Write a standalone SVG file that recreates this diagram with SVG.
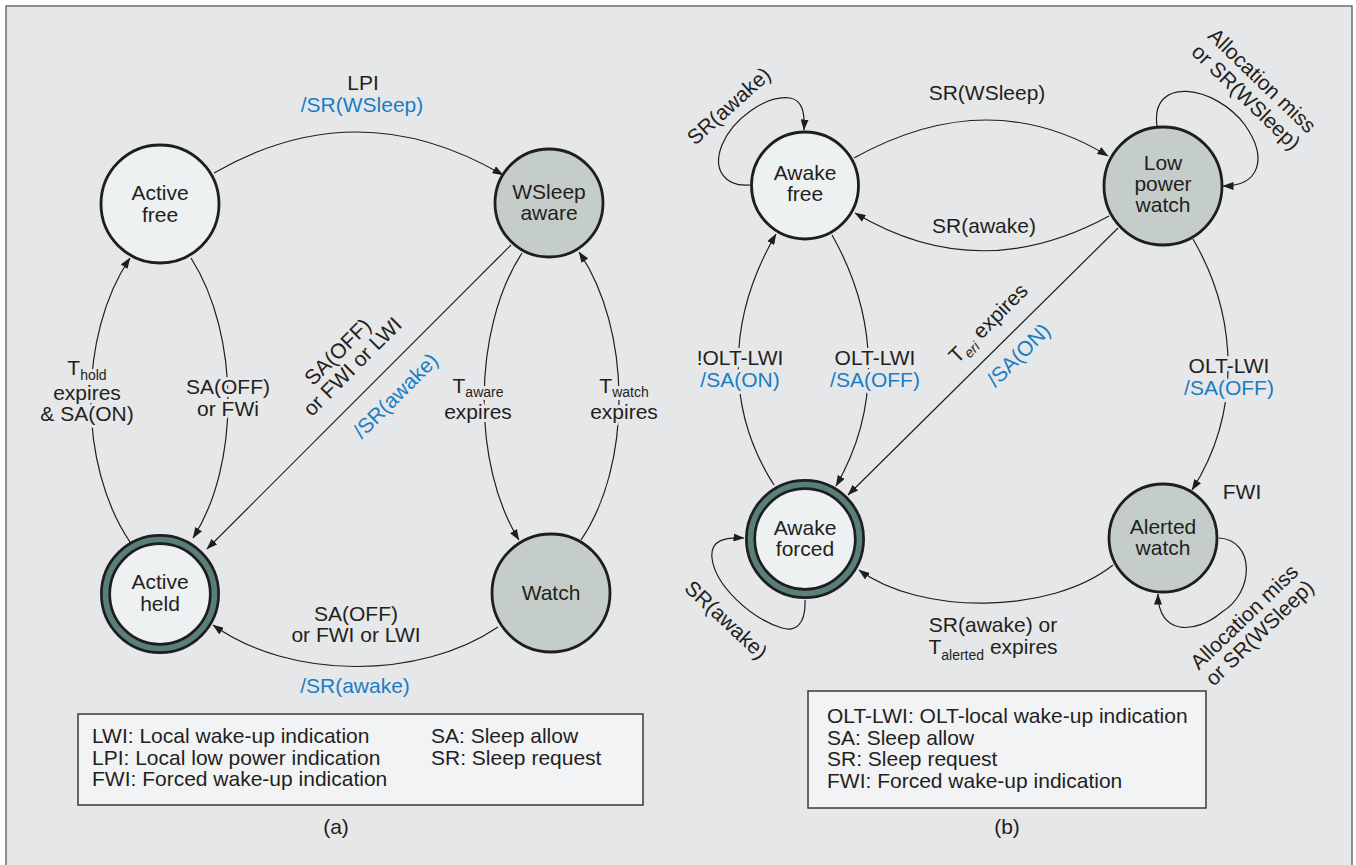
<svg xmlns="http://www.w3.org/2000/svg" width="1356" height="865" viewBox="0 0 1356 865">
<defs>
<marker id="arr" markerUnits="userSpaceOnUse" markerWidth="11" markerHeight="8" refX="10.5" refY="4" orient="auto">
<path d="M0,0 L11,4 L0,8 z" fill="#1e1e1e"/>
</marker>
</defs>
<style>
text{font-family:"Liberation Sans",Arial,sans-serif;font-size:21px;fill:#231f20}
.mid{text-anchor:middle}
.blue{fill:#1b7dc3}
.halo{stroke:#e6e7e9;stroke-width:6px;paint-order:stroke;stroke-linejoin:round}
.sub{font-size:14px}
.conn path{fill:none;stroke:#1e1e1e;stroke-width:1.2;marker-end:url(#arr)}
.light{fill:#eef1f1;stroke:#1e1e1e;stroke-width:2.8}
.gray{fill:#c4cdc9;stroke:#1e1e1e;stroke-width:2.8}
.ring{fill:#5a7f78;stroke:#1e1e1e;stroke-width:2.7}
.inner{fill:#eef1f1;stroke:#1e1e1e;stroke-width:2.7}
.legend{fill:#f2f3f5;stroke:#3a3a3a;stroke-width:1.5}
</style>
<rect x="0" y="0" width="1356" height="865" fill="#ffffff"/>
<rect x="6" y="6" width="1346" height="880" fill="#e6e7e9" stroke="#6d6e70" stroke-width="1.5"/>

<g id="connectors" class="conn">
<path d="M214,173 Q358,90 503,175"/>
<path d="M191,258 C240,335 240,465 193,538"/>
<path d="M130,542 C78,465 78,335 130,258"/>
<path d="M511,245 L207,549"/>
<path d="M522,253 C472,330 472,465 519,540"/>
<path d="M581,540 C632,465 632,330 579,252"/>
<path d="M498,627 C420,680 290,680 213,625"/>
<path d="M854,158 Q989,83 1108,156"/>
<path d="M1109,216 Q979,287 855,213"/>
<path d="M750,185 C725,187 712,170 722,145 C732,120 765,95 790,98 C802,100 805,112 804,130"/>
<path d="M1157,126 C1150,75 1215,85 1245,125 C1268,158 1260,186 1223,186"/>
<path d="M832,235 C880,320 880,410 836,486"/>
<path d="M774,485 C726,410 726,320 776,234"/>
<path d="M1118,228 L848,495"/>
<path d="M1193,239 C1240,320 1240,415 1192,490"/>
<path d="M1219,538 C1255,540 1255,592 1222,612 C1195,635 1158,635 1158,594"/>
<path d="M1113,565 C1050,615 920,615 859,570"/>
<path d="M805,600 C806,625 795,632 782,628 C750,618 715,585 712,558 C710,540 725,537 744,538"/>
</g>

<g id="node-active-free">
<circle class="light" cx="160" cy="204" r="59"/>
<text class="mid" x="160" y="200">Active</text>
<text class="mid" x="160" y="221.5">free</text>
</g>
<g id="node-wsleep-aware">
<circle class="gray" cx="549" cy="203" r="54"/>
<text class="mid" x="549" y="199">WSleep</text>
<text class="mid" x="549" y="220">aware</text>
</g>
<g id="node-active-held">
<circle class="ring" cx="160" cy="594" r="58.6"/>
<circle class="inner" cx="160" cy="594" r="50.3"/>
<text class="mid" x="160" y="589">Active</text>
<text class="mid" x="160" y="611">held</text>
</g>
<g id="node-watch">
<circle class="gray" cx="551" cy="593" r="59"/>
<text class="mid" x="551" y="600">Watch</text>
</g>

<g id="node-awake-free">
<circle class="light" cx="805" cy="185.5" r="53.5"/>
<text class="mid" x="805" y="180">Awake</text>
<text class="mid" x="805" y="201">free</text>
</g>
<g id="node-low-power-watch">
<circle class="gray" cx="1163" cy="186" r="59"/>
<text class="mid" x="1163" y="169.5">Low</text>
<text class="mid" x="1163" y="190.5">power</text>
<text class="mid" x="1163" y="211.5">watch</text>
</g>
<g id="node-awake-forced">
<circle class="ring" cx="805" cy="539" r="58.6"/>
<circle class="inner" cx="805" cy="539" r="50.3"/>
<text class="mid" x="805" y="535">Awake</text>
<text class="mid" x="805" y="555.5">forced</text>
</g>
<g id="node-alerted-watch">
<circle class="gray" cx="1163" cy="538" r="54"/>
<text class="mid" x="1163" y="534">Alerted</text>
<text class="mid" x="1163" y="554.5">watch</text>
</g>

<g id="labels">
<text class="mid" x="363" y="90">LPI</text>
<text class="mid blue" x="362" y="111.5">/SR(WSleep)</text>
<text class="mid halo" x="87" y="400">expires</text>
<text class="mid halo" x="87" y="421">&amp; SA(ON)</text>
<text class="mid halo" x="87" y="375">T<tspan class="sub" dy="5">hold</tspan></text>
<text class="mid halo" x="228" y="394">SA(OFF)</text>
<text class="mid halo" x="228" y="415.5">or FWi</text>
<g transform="translate(378,378) rotate(-45)">
<text class="mid" x="-10" y="-40">SA(OFF)</text>
<text class="mid" x="-10" y="-19">or FWI or LWI</text>
<text class="mid blue" x="0" y="32">/SR(awake)</text>
</g>
<text class="mid halo" x="478" y="419">expires</text>
<text class="mid halo" x="478" y="393">T<tspan class="sub" dy="4">aware</tspan></text>
<text class="mid halo" x="624" y="419">expires</text>
<text class="mid halo" x="624" y="393">T<tspan class="sub" dy="4">watch</tspan></text>
<text class="mid" x="356" y="621">SA(OFF)</text>
<text class="mid" x="356" y="641.5">or FWI or LWI</text>
<text class="mid blue" x="355" y="693">/SR(awake)</text>

<text class="mid" x="987" y="100">SR(WSleep)</text>
<text class="mid" x="984" y="233">SR(awake)</text>
<g transform="translate(729,106) rotate(-42)"><text class="mid" x="0" y="7">SR(awake)</text></g>
<g transform="translate(1254,89) rotate(44)">
<text class="mid" x="0" y="-4.5">Allocation miss</text>
<text class="mid" x="0" y="18.5">or SR(WSleep)</text>
</g>
<text class="mid halo" x="740" y="365">!OLT-LWI</text>
<text class="mid halo blue" x="740" y="387">/SA(ON)</text>
<text class="mid halo" x="875" y="365">OLT-LWI</text>
<text class="mid halo blue" x="875" y="387">/SA(OFF)</text>
<g transform="translate(984,360) rotate(-45)">
<text class="mid" x="29" y="-16">T<tspan class="sub" dy="5" font-style="italic">eri</tspan><tspan dy="-5"> expires</tspan></text>
<text class="mid blue" x="28" y="28">/SA(ON)</text>
</g>
<text class="mid halo" x="1229" y="372.5">OLT-LWI</text>
<text class="mid halo blue" x="1229" y="394.5">/SA(OFF)</text>
<text class="mid" x="1242" y="499">FWI</text>
<g transform="translate(1252,625) rotate(-44)">
<text class="mid" x="0" y="-4">Allocation miss</text>
<text class="mid" x="0" y="18">or SR(WSleep)</text>
</g>
<g transform="translate(726,620) rotate(43)"><text class="mid" x="0" y="7">SR(awake)</text></g>
<text class="mid" x="993" y="632">SR(awake) or</text>
<text class="mid" x="993" y="654">T<tspan class="sub" dy="6">alerted</tspan><tspan dy="-6"> expires</tspan></text>
</g>

<g id="legend-a">
<rect class="legend" x="78" y="714" width="565" height="91"/>
<text x="92" y="743">LWI: Local wake-up indication</text>
<text x="92" y="764.5">LPI: Local low power indication</text>
<text x="92" y="786">FWI: Forced wake-up indication</text>
<text x="431" y="743">SA: Sleep allow</text>
<text x="431" y="764.5">SR: Sleep request</text>
</g>
<text id="caption-a" class="mid" x="336" y="834">(a)</text>

<g id="legend-b">
<rect class="legend" x="808" y="691" width="398" height="117"/>
<text x="827" y="723">OLT-LWI: OLT-local wake-up indication</text>
<text x="827" y="744.5">SA: Sleep allow</text>
<text x="827" y="766">SR: Sleep request</text>
<text x="827" y="787.5">FWI: Forced wake-up indication</text>
</g>
<text id="caption-b" class="mid" x="1007" y="834">(b)</text>
</svg>
